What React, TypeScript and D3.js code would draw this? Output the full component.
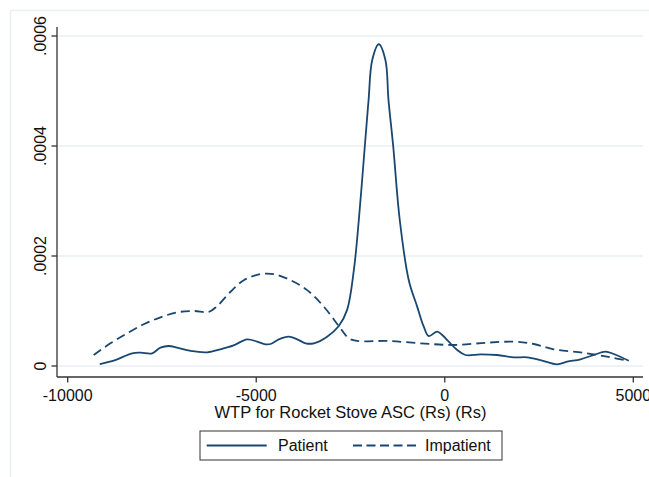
import React from "react";
import * as d3 from "d3";

// kernel density estimates
const patientX = [-9150, -8780, -8290, -8070, -7760, -7540, -7320, -7100, -6740, -6300, -5950, -5600, -5240, -4975, -4755, -4620, -4400, -4140, -3910, -3690, -3470, -3120, -2810, -2590, -2410, -2280, -2120, -2020, -1925, -1750, -1573, -1493, -1368, -1193, -955, -732, -557, -424, -202, -69, 106, 329, 549, 947, 1390, 1830, 2185, 2538, 2981, 3246, 3599, 3951, 4262, 4482, 4880];
const patientY = [0.0000036, 0.0000096, 0.0000231, 0.0000242, 0.0000231, 0.0000333, 0.0000364, 0.0000333, 0.0000273, 0.0000249, 0.0000304, 0.0000376, 0.0000485, 0.0000442, 0.0000395, 0.00004, 0.0000485, 0.0000533, 0.0000485, 0.0000413, 0.0000413, 0.0000533, 0.0000727, 0.000102, 0.000175, 0.000265, 0.0004, 0.000484, 0.000556, 0.000585, 0.000556, 0.000484, 0.0004, 0.000265, 0.000156, 0.000108, 0.0000715, 0.0000545, 0.0000624, 0.0000564, 0.0000442, 0.0000291, 0.00002, 0.0000213, 0.00002, 0.0000158, 0.0000158, 0.0000109, 0.0000031, 0.0000078, 0.0000122, 0.00002, 0.000026, 0.0000218, 0.0000096];

const impatientX = [-9310, -8866, -8423, -7983, -7540, -7097, -6657, -6259, -6036, -5683, -5331, -4888, -4535, -4092, -3649, -3209, -2811, -2546, -2323, -1528, -644, 239, 1124, 1830, 2360, 2891, 3776, 4394, 4837];
const impatientY = [0.00002, 0.0000413, 0.0000595, 0.0000758, 0.0000885, 0.0000976, 0.0001, 0.0000982, 0.000109, 0.000135, 0.000156, 0.000167, 0.000167, 0.000156, 0.000138, 0.000108, 0.0000727, 0.0000504, 0.0000455, 0.0000455, 0.0000413, 0.0000382, 0.0000424, 0.0000442, 0.00004, 0.0000304, 0.0000231, 0.0000158, 0.0000096];

const xTicks = [-10000, -5000, 0, 5000];
const yTicks = [0, 0.0002, 0.0004, 0.0006];
const yTickLabels = ["0", ".0002", ".0004", ".0006"];

const width = 649;
const height = 477;
const font = "'Liberation Sans', Arial, sans-serif";
const navy = "#1a476f";
const grid = "#e8f0f2";

export default function App() {
  const x = d3.scaleLinear().domain([-10000, 5000]).range([67.7, 633.3]);
  const y = d3.scaleLinear().domain([0, 0.0006]).range([366, 36]);

  const line = d3
    .line<[number, number]>()
    .x((d) => x(d[0]))
    .y((d) => y(d[1]))
    .curve(d3.curveCatmullRom.alpha(0.5));

  const patient = patientX.map((v, i) => [v, patientY[i]] as [number, number]);
  const impatient = impatientX.map((v, i) => [v, impatientY[i]] as [number, number]);

  const left = 57;
  const right = 643;
  const bottom = 377;

  return (
    <div style={{ position: "absolute", left: 0, top: 0 }}>
      <svg width={width} height={height} style={{ display: "block", background: "#fff" }}>
        <line x1={10} x2={width} y1={10.5} y2={10.5} stroke={grid} strokeWidth={1.5} />
        <line x1={10.5} x2={10.5} y1={10} y2={height} stroke={grid} strokeWidth={1.5} />

        {yTicks.map((t) => (
          <line key={"g" + t} x1={left} x2={right} y1={y(t)} y2={y(t)} stroke={grid} strokeWidth={1.5} />
        ))}

        <path d={line(impatient) ?? ""} fill="none" stroke={navy} strokeWidth={1.8} strokeDasharray="9,5" />
        <path d={line(patient) ?? ""} fill="none" stroke={navy} strokeWidth={1.8} />

        <line x1={left} x2={left} y1={27} y2={bottom} stroke="#333" strokeWidth={1.3} />
        <line x1={left} x2={right} y1={bottom} y2={bottom} stroke="#333" strokeWidth={1.3} />

        {yTicks.map((t, i) => (
          <g key={"y" + t}>
            <line x1={left - 5.5} x2={left} y1={y(t)} y2={y(t)} stroke="#333" strokeWidth={1.3} />
            <text
              transform={`translate(45.5,${y(t)}) rotate(-90)`}
              textAnchor="middle"
              fontFamily={font}
              fontSize={16}
              fill="#111"
            >
              {yTickLabels[i]}
            </text>
          </g>
        ))}

        {xTicks.map((t) => (
          <g key={"x" + t}>
            <line x1={x(t)} x2={x(t)} y1={bottom} y2={bottom + 5.5} stroke="#333" strokeWidth={1.3} />
            <text x={x(t)} y={401} textAnchor="middle" fontFamily={font} fontSize={16} fill="#111">
              {t}
            </text>
          </g>
        ))}

        <text x={350.5} y={417.5} textAnchor="middle" fontFamily={font} fontSize={16.5} fill="#111">
          WTP for Rocket Stove ASC (Rs) (Rs)
        </text>

        <rect x={200} y={431} width={302} height={29} fill="#fff" stroke="#333" strokeWidth={1} />
        <line x1={206.7} x2={266.7} y1={445.5} y2={445.5} stroke={navy} strokeWidth={1.8} />
        <text x={278} y={451} fontFamily={font} fontSize={16} fill="#111">
          Patient
        </text>
        <line x1={353} x2={417} y1={445.5} y2={445.5} stroke={navy} strokeWidth={1.8} strokeDasharray="9,4.5" />
        <text x={425} y={451} fontFamily={font} fontSize={16} fill="#111">
          Impatient
        </text>
      </svg>
    </div>
  );
}
